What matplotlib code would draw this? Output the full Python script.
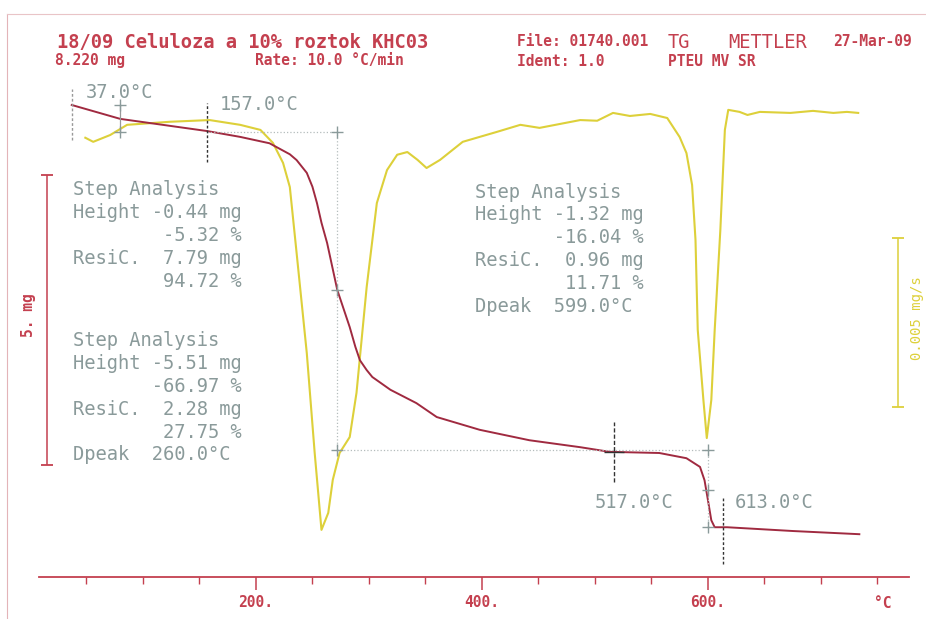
import matplotlib.pyplot as plt

# TG curve: temperature (°C) and sample mass (mg)
temp_tg = [37, 80, 157, 186, 212, 230, 236, 245, 250, 254, 258, 263, 272, 283,
           288, 292, 298, 303, 319, 342, 360, 398, 442, 487, 513, 557, 581, 593,
           597, 600, 603, 606, 617, 675, 734]
mass_tg = [8.22, 7.98, 7.77, 7.67, 7.56, 7.37, 7.27, 7.05, 6.81, 6.53, 6.19, 5.84,
           5.03, 4.39, 4.05, 3.82, 3.65, 3.53, 3.31, 3.08, 2.84, 2.62, 2.44, 2.32,
           2.24, 2.22, 2.13, 1.98, 1.75, 1.41, 1.06, 0.94, 0.94, 0.875, 0.82]

# DTG curve: temperature (°C) and mass change rate (1e-3 mg/s)
temp_dtg = [49, 56, 71, 86, 124, 159, 186, 204, 215, 224, 230, 236, 245, 252,
            258, 264, 268, 274, 283, 289, 298, 307, 316, 325, 334, 343, 351, 363,
            383, 413, 434, 451, 487, 502, 516, 531, 549, 564, 575, 581, 586, 589,
            591, 596, 599, 603, 606, 611, 615, 618, 628, 635, 646, 673, 693, 711,
            723, 733]
dtg = [-0.76, -0.88, -0.68, -0.38, -0.29, -0.24, -0.38, -0.53, -0.91, -1.50,
       -2.21, -4.15, -7.09, -10.03, -12.29, -11.79, -10.82, -10.03, -9.56, -8.26,
       -5.15, -2.68, -1.71, -1.26, -1.18, -1.41, -1.65, -1.41, -0.88, -0.59,
       -0.38, -0.47, -0.24, -0.26, -0.03, -0.12, -0.06, -0.18, -0.74, -1.21,
       -2.15, -3.76, -6.41, -8.47, -9.59, -8.47, -6.41, -3.47, -0.53, 0.06,
       0.0, -0.09, 0.0, -0.03, 0.03, -0.03, 0.0, -0.03]

# step analysis results
steps = [
    ["Step Analysis", "Height -0.44 mg", "        -5.32 %", "ResiC.  7.79 mg",
     "        94.72 %"],
    ["Step Analysis", "Height -5.51 mg", "       -66.97 %", "ResiC.  2.28 mg",
     "        27.75 %", "Dpeak  260.0°C"],
    ["Step Analysis", "Height -1.32 mg", "       -16.04 %", "ResiC.  0.96 mg",
     "        11.71 %", "Dpeak  599.0°C"],
]
step_limits = [37, 157, 517, 613]
major_ticks = [200, 400, 600]
minor_ticks = [50, 100, 150, 250, 300, 350, 450, 500, 550, 650, 700, 750]

RED = "#c4404f"
TGC = "#a02a40"
YEL = "#ddd03a"
GRAY = "#8a9a9a"
MONO = "DejaVu Sans Mono"

W, H = 926, 619


def fx(x):
    return x / W


def fy(y):
    return 1 - y / H


fig = plt.figure(figsize=(9.26, 6.19), dpi=100)
fig.patch.set_facecolor("white")

# both curve axes fill the figure; limits chosen so the chart lands like the scan
xlim = (-26.5, 793.0)
ax_d = fig.add_axes([0, 0, 1, 1])
ax_d.set_xlim(xlim)
ax_d.set_ylim(-14.91, 3.29)
ax_d.axis("off")

ax = fig.add_axes([0, 0, 1, 1])
ax.set_xlim(xlim)
ax.set_ylim(-0.642, 10.03)
ax.axis("off")
ax.patch.set_alpha(0)

ax_d.plot(temp_dtg, dtg, color=YEL, lw=1.5, solid_joinstyle="round")
ax.plot(temp_tg, mass_tg, color=TGC, lw=1.4, solid_joinstyle="round")

# step analysis construction lines
gl = dict(color="#b4bcbc", lw=0.9, ls=":")
ax.hlines(7.755, 157, 272, **gl)
ax.vlines(272, 2.28, 7.755, **gl)
ax.hlines(2.28, 272, 600, **gl)
ax.vlines(600, 0.94, 2.28, **gl)
ax.vlines(80, 7.75, 8.22, color="#999999", lw=0.9)
ax.plot([80, 80, 272, 272, 272, 600, 600, 600],
        [8.22, 7.75, 7.755, 5.03, 2.28, 2.28, 1.58, 0.94],
        ls="none", marker="+", ms=8, mew=1.0, color=GRAY)

# limit markers
ax.vlines(37, 7.62, 8.5, color="#999999", lw=1.0, ls=(0, (2, 1.5)))
ax.vlines(157, 7.24, 8.25, color="#333333", lw=1.0, ls=(0, (2, 1.5)))
ax.vlines(517, 1.72, 2.75, color="#333333", lw=1.0, ls=(0, (3, 1.5)))
ax.hlines(2.24, 508, 526, color="#333333", lw=1.0)
ax.vlines(613, 0.3, 1.46, color="#333333", lw=1.0, ls=(0, (2, 1.5)))

# scale bars
ax.vlines(15, 2.013, 7.013, color=RED, lw=1.1)
ax.plot([15, 15], [2.013, 7.013], ls="none", marker="_", ms=9, mew=1.3, color=RED)
ax_d.vlines(768, -8.68, -3.71, color=YEL, lw=1.1)
ax_d.plot([768, 768], [-8.68, -3.71], ls="none", marker="_", ms=9, mew=1.3,
          color=YEL)

# frame lines of the printout
fig.add_artist(plt.Line2D([fx(7), fx(7)], [0, fy(14)], color="#e3b4b8", lw=0.8))
fig.add_artist(plt.Line2D([fx(7), 1], [fy(14), fy(14)], color="#e9c4c7", lw=0.8))

# temperature axis
axx = fig.add_axes([0, fy(577), 1, 0.0001])
axx.set_xlim(xlim)
axx.patch.set_alpha(0)
for s in ["left", "right", "top"]:
    axx.spines[s].set_visible(False)
axx.spines["bottom"].set_color(RED)
axx.spines["bottom"].set_linewidth(1.3)
axx.spines["bottom"].set_bounds(8, 778)
axx.set_yticks([])
axx.set_xticks(major_ticks)
axx.set_xticklabels([f"{t}." for t in major_ticks], fontfamily=MONO,
                    fontweight="bold", color=RED, fontsize=10.5)
axx.set_xticks(minor_ticks, minor=True)
axx.tick_params(which="major", length=9, width=1.1, color=RED, pad=4)
axx.tick_params(which="minor", length=5, width=1.0, color=RED)
fig.text(fx(874), fy(604), "°C", color=RED, fontsize=10.5, fontweight="bold",
         family=MONO, va="center")
fig.text(fx(28), fy(315), "5. mg", color=RED, fontsize=10.5, fontweight="bold",
         family=MONO, va="center", ha="center", rotation=90)
fig.text(fx(910), fy(318), "0.005 mg/s", color=YEL, fontsize=10,
         family=MONO, va="center", ha="left", rotation=90)

# header
hb = dict(color=RED, family=MONO, va="center")
fig.text(fx(57), fy(42), "18/09 Celuloza a 10% roztok KHC03", fontsize=13.5,
         fontweight="bold", **hb)
fig.text(fx(55), fy(61), "8.220 mg", fontsize=10.5, fontweight="bold", **hb)
fig.text(fx(255), fy(61), "Rate: 10.0 °C/min", fontsize=10.5, fontweight="bold", **hb)
fig.text(fx(517), fy(42), "File: 01740.001", fontsize=10.5, fontweight="bold", **hb)
fig.text(fx(517), fy(61), "Ident: 1.0", fontsize=10.5, fontweight="bold", **hb)
fig.text(fx(668), fy(42), "TG", fontsize=13.5, **hb)
fig.text(fx(728), fy(42), "METTLER", fontsize=13.5, **hb)
fig.text(fx(833), fy(42), "27-Mar-09", fontsize=10.5, fontweight="bold", **hb)
fig.text(fx(668), fy(61), "PTEU MV SR", fontsize=10.5, fontweight="bold", **hb)

# temperature labels of the limits
gt = dict(color=GRAY, family=MONO, fontsize=13.5, va="center")
fig.text(fx(86), fy(92), f"{step_limits[0]:.1f}°C", **gt)
fig.text(fx(220), fy(104), f"{step_limits[1]:.1f}°C", **gt)
fig.text(fx(595), fy(503), f"{step_limits[2]:.1f}°C", **gt)
fig.text(fx(735), fy(503), f"{step_limits[3]:.1f}°C", **gt)

# step analysis blocks
for block, (x0, y0) in zip(steps, [(73, 190), (73, 341), (475, 192)]):
    for i, line in enumerate(block):
        fig.text(fx(x0), fy(y0 + i * 22.8), line, **gt)

fig.savefig("out.png", dpi=100, facecolor="white")
